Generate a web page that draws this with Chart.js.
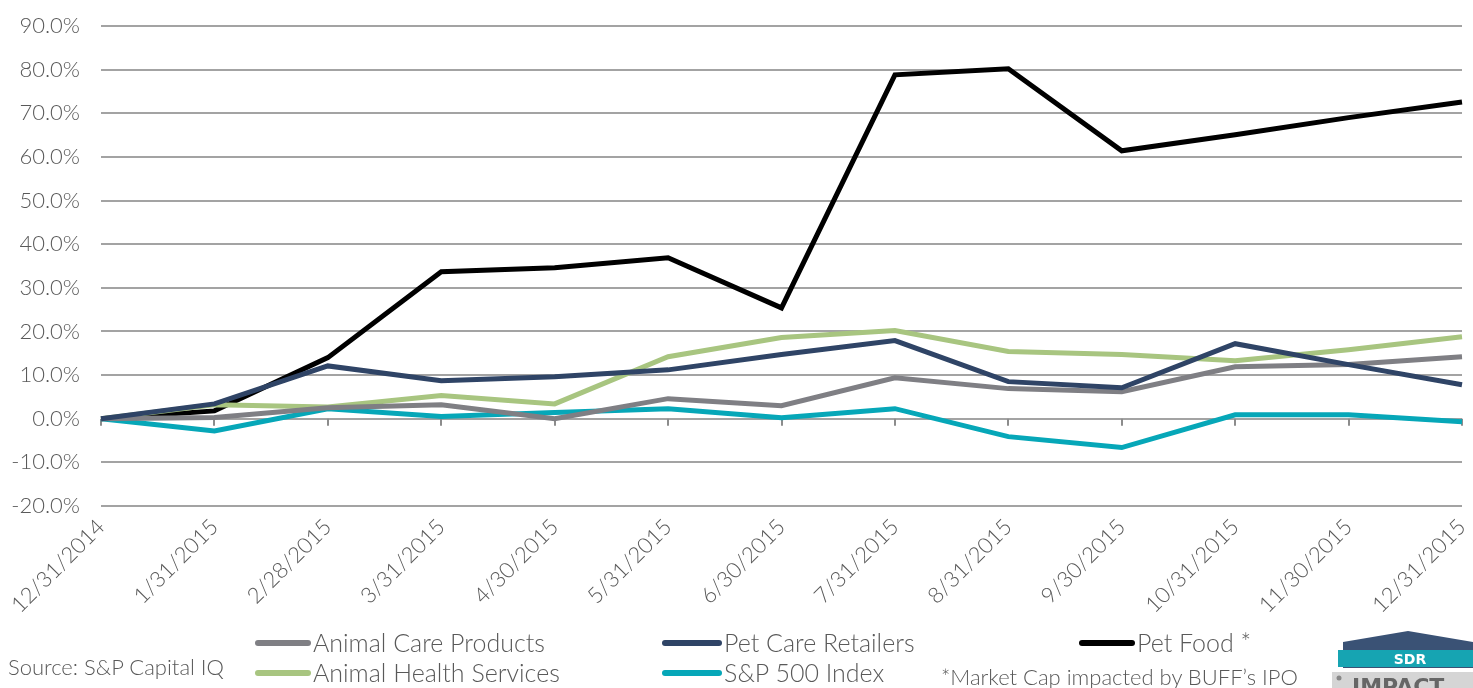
<!DOCTYPE html>
<html>
<head>
<meta charset="utf-8">
<script src="https://cdn.jsdelivr.net/npm/chart.js@4.4.1/dist/chart.umd.min.js"></script>
<style>
  html,body{margin:0;padding:0;background:#fff;}
  #wrap{position:relative;width:1473px;height:688px;overflow:hidden;font-family:"Lato","Open Sans",sans-serif;font-weight:300;color:#595959;}
  #c{position:absolute;left:0;top:0;}
  .lg{position:absolute;font-size:25px;line-height:26px;white-space:nowrap;}
  .mk{position:absolute;height:6px;border-radius:3px;}
  .txt{position:absolute;font-size:22px;line-height:24px;white-space:nowrap;}
</style>
</head>
<body>
<div id="wrap">
<canvas id="c" width="1473" height="688"></canvas>
<div id="legend"></div>
<div class="txt" style="left:8px;top:655px;">Source: S&amp;P Capital IQ</div>
<div class="txt" style="left:941px;top:665px;">*Market Cap impacted by BUFF’s IPO</div>
<svg style="position:absolute;left:1330px;top:628px" width="143" height="60">
  <polygon points="13,14 78,3 143,14 143,40 13,40" fill="#3a5275"/>
  <rect x="8" y="22" width="135" height="17" fill="#16a4b2"/>
  <text x="80" y="36" text-anchor="middle" font-family="DejaVu Sans" font-weight="bold" font-size="14" fill="#fff">SDR</text>
  <rect x="2" y="44" width="141" height="20" fill="#d5d5d5"/>
  <circle cx="9" cy="50" r="2.5" fill="#888"/>
  <text x="22" y="66" font-family="DejaVu Sans" font-weight="bold" font-size="22" fill="#666">IMPACT</text>
</svg>
</div>
<script>
const categories = ["12/31/2014","1/31/2015","2/28/2015","3/31/2015","4/30/2015","5/31/2015","6/30/2015","7/31/2015","8/31/2015","9/30/2015","10/31/2015","11/30/2015","12/31/2015"];
const animalCareProducts   = [0, 0.3, 2.5, 3.2, 0.0, 4.6, 3.0, 9.4, 6.9, 6.2, 11.9, 12.4, 14.2];
const petCareRetailers     = [0, 3.4, 12.1, 8.7, 9.6, 11.2, 14.7, 17.9, 8.5, 7.1, 17.2, 12.4, 7.8];
const petFood              = [0, 1.8, 14.0, 33.7, 34.6, 36.9, 25.4, 78.8, 80.2, 61.4, 65.1, 69.0, 72.6];
const animalHealthServices = [0, 3.2, 2.7, 5.3, 3.4, 14.2, 18.6, 20.2, 15.4, 14.7, 13.3, 15.8, 18.8];
const sp500Index           = [0, -2.8, 2.3, 0.5, 1.4, 2.3, 0.2, 2.3, -4.1, -6.6, 0.9, 0.9, -0.7];
const yTicks = [-20, -10, 0, 10, 20, 30, 40, 50, 60, 70, 80, 90];

const series = [
  {label:"Pet Care Retailers", data:petCareRetailers, color:"#2f4466", legend:{x:662,y:629,tx:724}},
  {label:"Animal Care Products", data:animalCareProducts, color:"#7f7f84", legend:{x:255,y:629,tx:313}},
  {label:"Animal Health Services", data:animalHealthServices, color:"#a8c580", legend:{x:255,y:659,tx:313}},
  {label:"S&P 500 Index", data:sp500Index, color:"#06a7b8", legend:{x:662,y:659,tx:724}},
  {label:"Pet Food *", data:petFood, color:"#000000", legend:{x:1079,y:629,tx:1137}}
];

const lg = document.getElementById('legend');
series.forEach(s=>{
  const m = document.createElement('div');
  m.className='mk';
  m.style.left=s.legend.x+'px'; m.style.top=(s.legend.y+11)+'px';
  m.style.width=(s.legend.tx-s.legend.x-2)+'px';
  m.style.background=s.color;
  lg.appendChild(m);
  const t = document.createElement('div');
  t.className='lg';
  t.style.left=s.legend.tx+'px'; t.style.top=s.legend.y+'px';
  t.textContent=s.label;
  lg.appendChild(t);
});

const zeroTicks = {
  id:'zeroTicks',
  beforeDatasetsDraw(chart){
    const {ctx, scales:{x,y}} = chart;
    const y0 = y.getPixelForValue(0);
    ctx.save();
    ctx.strokeStyle='#8c8c8c';
    ctx.lineWidth=2;
    categories.forEach((c,i)=>{
      const px = Math.round(x.getPixelForValue(i));
      ctx.beginPath(); ctx.moveTo(px,y0); ctx.lineTo(px,y0+7); ctx.stroke();
    });
    ctx.restore();
  }
};

const tickFont = {family:'Lato', weight:'300', size:22};

new Chart(document.getElementById('c'), {
  type:'line',
  data:{
    labels:categories,
    datasets: series.map(s=>({
      label:s.label, data:s.data, borderColor:s.color, backgroundColor:s.color,
      borderWidth:5, pointRadius:0, tension:0, fill:false, borderJoinStyle:'miter'
    }))
  },
  options:{
    responsive:false, animation:false,
    layout:{padding:{top:26,right:11,left:0,bottom:0}},
    plugins:{legend:{display:false}, tooltip:{enabled:false}},
    scales:{
      x:{
        offset:false,
        grid:{display:false, drawTicks:false},
        border:{display:false},
        ticks:{color:'#595959', font:tickFont, maxRotation:45, minRotation:45, padding:8, autoSkip:false},
        afterFit(scale){ scale.height = 182; scale.paddingLeft = 0; scale.paddingRight = 0; }
      },
      y:{
        min:-20, max:90,
        afterBuildTicks(scale){ scale.ticks = yTicks.map(v=>({value:v})); },
        grid:{color:'#a3a3a3', lineWidth:2, drawTicks:false},
        border:{display:false},
        ticks:{color:'#595959', font:tickFont, padding:21,
          callback:v=>v.toFixed(1)+'%'},
        afterFit(scale){ scale.width = 101; scale.paddingTop = 0; scale.paddingBottom = 0; }
      }
    }
  },
  plugins:[zeroTicks]
});
</script>
</body>
</html>
